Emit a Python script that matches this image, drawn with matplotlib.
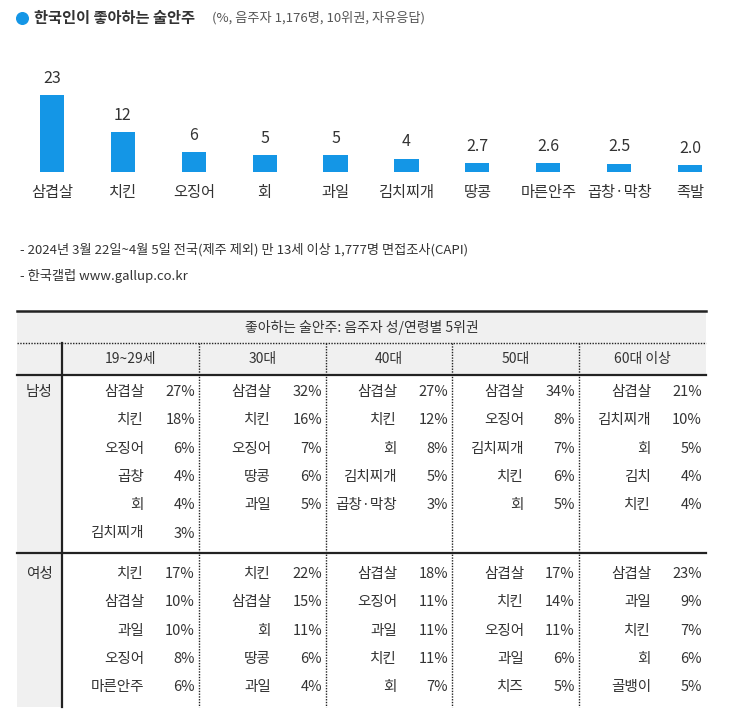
import matplotlib.pyplot as plt
from matplotlib.patches import Rectangle

plt.rcParams['font.family'] = ['Noto Sans CJK JP', 'Noto Sans CJK KR', 'Noto Sans CJK SC', 'DejaVu Sans']

# bar chart data
foods = ['삼겹살', '치킨', '오징어', '회', '과일', '김치찌개', '땅콩', '마른안주', '곱창·막창', '족발']
shares = [23, 12, 6, 5, 5, 4, 2.7, 2.6, 2.5, 2.0]
share_labels = ['23', '12', '6', '5', '5', '4', '2.7', '2.6', '2.5', '2.0']

# table data
age_groups = ['19~29세', '30대', '40대', '50대', '60대 이상']
male_items = [
    [('삼겹살', 27), ('치킨', 18), ('오징어', 6), ('곱창', 4), ('회', 4), ('김치찌개', 3)],
    [('삼겹살', 32), ('치킨', 16), ('오징어', 7), ('땅콩', 6), ('과일', 5)],
    [('삼겹살', 27), ('치킨', 12), ('회', 8), ('김치찌개', 5), ('곱창·막창', 3)],
    [('삼겹살', 34), ('오징어', 8), ('김치찌개', 7), ('치킨', 6), ('회', 5)],
    [('삼겹살', 21), ('김치찌개', 10), ('회', 5), ('김치', 4), ('치킨', 4)],
]
female_items = [
    [('치킨', 17), ('삼겹살', 10), ('과일', 10), ('오징어', 8), ('마른안주', 6)],
    [('치킨', 22), ('삼겹살', 15), ('회', 11), ('땅콩', 6), ('과일', 4)],
    [('삼겹살', 18), ('오징어', 11), ('과일', 11), ('치킨', 11), ('회', 7)],
    [('삼겹살', 17), ('치킨', 14), ('오징어', 11), ('과일', 6), ('치즈', 5)],
    [('삼겹살', 23), ('과일', 9), ('치킨', 7), ('회', 6), ('골뱅이', 5)],
]

W, H = 739, 725
BLUE = '#1496e6'
GRAY = '#f0f0f0'
TXT = '#333333'

fig = plt.figure(figsize=(W / 100, H / 100), dpi=100)

# page-level axes in pixel coordinates for title, notes and table
pg = fig.add_axes([0, 0, 1, 1])
pg.set_xlim(0, W)
pg.set_ylim(H, 0)
pg.axis('off')

pg.scatter([22], [18], s=70, color=BLUE)
pg.text(34, 18, '한국인이 좋아하는 술안주', fontsize=11, fontweight='bold', color=TXT, va='center')
pg.text(212, 18, '(%, 음주자 1,176명, 10위권, 자유응답)', fontsize=9.5, color='#555555', va='center')
pg.text(20, 250, '- 2024년 3월 22일~4월 5일 전국(제주 제외) 만 13세 이상 1,777명 면접조사(CAPI)',
        fontsize=9.5, color=TXT, va='center')
pg.text(20, 276, '- 한국갤럽 www.gallup.co.kr', fontsize=9.5, color=TXT, va='center')

# bar axes
x0, x1 = 16.5, 725.5
base, top = 172, 72
ax = fig.add_axes([x0 / W, 1 - base / H, (x1 - x0) / W, (base - top) / H])
xs = range(len(foods))
ax.bar(xs, shares, width=0.34, color=BLUE)
for x, v, lab in zip(xs, shares, share_labels):
    ax.text(x, v + 2.5, lab, ha='center', va='bottom', fontsize=11.5, color=TXT)
ax.set_xlim(-0.5, len(foods) - 0.5)
ax.set_ylim(0, 30)
ax.set_xticks(list(xs))
ax.set_xticklabels(foods, fontsize=11, color=TXT)
ax.tick_params(axis='x', length=0, pad=9)
ax.set_yticks([])
for s in ax.spines.values():
    s.set_visible(False)

# table
L, R = 17, 706
t_top, h1, h2, mid, t_bot = 311, 343, 375, 553, 707
col_edges = [62, 199, 326, 452, 579, R]
pg.add_patch(Rectangle((L, t_top), R - L, h2 - t_top, color=GRAY, lw=0))
pg.add_patch(Rectangle((L, h2), 62 - L, t_bot - h2, color=GRAY, lw=0))
pg.plot([L, R], [t_top, t_top], color='#222222', lw=1.8)
pg.plot([L, R], [h1, h1], color='#222222', lw=1, ls=(0, (1, 1)))
pg.plot([L, R], [h2, h2], color='#222222', lw=1.6)
pg.plot([L, R], [mid, mid], color='#222222', lw=1.6)
pg.plot([62, 62], [h1, t_bot], color='#222222', lw=1.6)
for xe in col_edges[1:-1]:
    pg.plot([xe, xe], [h1, t_bot], color='#222222', lw=1, ls=(0, (1, 1)))

pg.text((L + R) / 2, (t_top + h1) / 2, '좋아하는 술안주: 음주자 성/연령별 5위권',
        ha='center', va='center', fontsize=10, color=TXT)
for i, g in enumerate(age_groups):
    pg.text((col_edges[i] + col_edges[i + 1]) / 2, (h1 + h2) / 2, g,
            ha='center', va='center', fontsize=10, color=TXT)

row_gap = 28.3
for label, y0, groups in [('남성', 392, male_items), ('여성', 574, female_items)]:
    pg.text(39, y0, label, ha='center', va='center', fontsize=10.5, color=TXT)
    for i, items in enumerate(groups):
        right = col_edges[i + 1]
        for j, (name, pct) in enumerate(items):
            y = y0 + j * row_gap
            pg.text(right - 55, y, name, ha='right', va='center', fontsize=10.5, color=TXT)
            pg.text(right - 4, y, f'{pct}%', ha='right', va='center', fontsize=10.5, color=TXT)

fig.savefig('out.png', dpi=100)
